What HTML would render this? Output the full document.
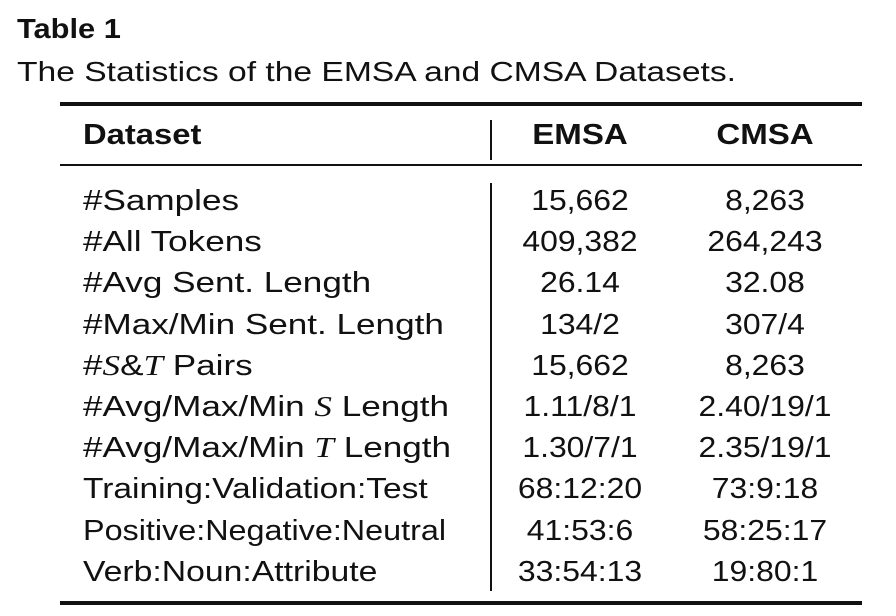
<!DOCTYPE html>
<html><head><meta charset="utf-8"><style>
html,body{margin:0;padding:0;background:#fff;}
body{width:896px;height:616px;position:relative;overflow:hidden;font-family:"Liberation Sans","DejaVu Sans",sans-serif;color:#111;}
.a{position:absolute;white-space:nowrap;}
.t{position:absolute;font-size:29px;line-height:34px;white-space:nowrap;}
.l{left:83px;transform:scaleX(1.21);transform-origin:left center;}
.c1{left:500px;width:160px;text-align:center;transform:scaleX(1.1);}
.c2{left:680px;width:170px;text-align:center;transform:scaleX(1.1);}
.h{transform:scaleX(1.14);}
.m{font-family:"Liberation Serif",serif;font-style:italic;}
.rule{position:absolute;left:60px;width:802px;background:#111;}
</style></head><body>
<div class="a" style="left:17px;top:13px;font-size:28px;font-weight:bold;transform:scaleX(1.1);transform-origin:left center;">Table 1</div>
<div class="a" style="left:17px;top:56px;font-size:28px;transform:scaleX(1.2);transform-origin:left center;">The Statistics of the EMSA and CMSA Datasets.</div>
<div class="rule" style="top:102px;height:4px;"></div>
<div class="rule" style="top:164px;height:2px;"></div>
<div class="rule" style="top:601px;height:4px;"></div>
<div class="a" style="left:490px;top:120px;width:2px;height:40px;background:#111;"></div>
<div class="a" style="left:490px;top:183px;width:2px;height:408px;background:#111;"></div>
<div class="t l h" style="top:118px;font-weight:bold;transform:scaleX(1.13);">Dataset</div>
<div class="t c1 h" style="top:118px;font-weight:bold;">EMSA</div>
<div class="t c2 h" style="top:118px;font-weight:bold;">CMSA</div>
<div id="rows"></div>
<script>
const labels=["#Samples","#All Tokens","#Avg Sent. Length","#Max/Min Sent. Length","#<span class='m'>S</span>&amp;<span class='m'>T</span> Pairs","#Avg/Max/Min <span class='m'>S</span> Length","#Avg/Max/Min <span class='m'>T</span> Length","Training:Validation:Test","Positive:Negative:Neutral","Verb:Noun:Attribute"];
const emsa=["15,662","409,382","26.14","134/2","15,662","1.11/8/1","1.30/7/1","68:12:20","41:53:6","33:54:13"];
const cmsa=["8,263","264,243","32.08","307/4","8,263","2.40/19/1","2.35/19/1","73:9:18","58:25:17","19:80:1"];
const labelScale={7:1.156,8:1.115,9:1.163};
const root=document.getElementById('rows');
labels.forEach((lb,i)=>{
  const top=184+i*41.2;
  const a=document.createElement('div');a.className='t l';a.style.top=top+'px';a.innerHTML=lb;
  if(labelScale[i]) a.style.transform='scaleX('+labelScale[i]+')';
  
  
  root.appendChild(a);
  const b=document.createElement('div');b.className='t c1';b.style.top=top+'px';b.textContent=emsa[i];
  
  
  root.appendChild(b);
  const c=document.createElement('div');c.className='t c2';c.style.top=top+'px';c.textContent=cmsa[i];
  
  
  root.appendChild(c);
});
</script>
</body></html>
